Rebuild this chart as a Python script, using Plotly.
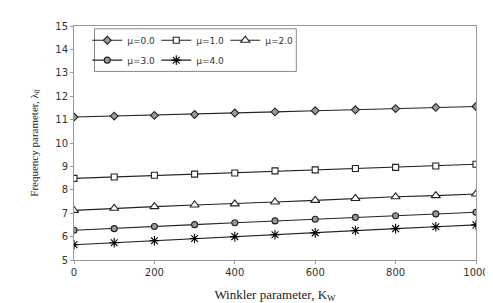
import plotly.graph_objects as go

kw = [0, 100, 200, 300, 400, 500, 600, 700, 800, 900, 1000]
mu0 = [11.11, 11.15, 11.18, 11.22, 11.28, 11.33, 11.38, 11.42, 11.47, 11.52, 11.56]
mu1 = [8.49, 8.55, 8.62, 8.67, 8.72, 8.81, 8.85, 8.91, 8.96, 9.02, 9.09]
mu2 = [7.12, 7.21, 7.28, 7.35, 7.40, 7.48, 7.55, 7.63, 7.70, 7.75, 7.82]
mu3 = [6.27, 6.34, 6.43, 6.51, 6.59, 6.67, 6.74, 6.82, 6.89, 6.97, 7.04]
mu4 = [5.65, 5.74, 5.82, 5.92, 6.00, 6.08, 6.16, 6.26, 6.34, 6.42, 6.50]
names = ["μ=0.0", "μ=1.0", "μ=2.0", "μ=3.0", "μ=4.0"]

series = [mu0, mu1, mu2, mu3, mu4]
symbols = ["diamond", "square", "triangle-up", "circle", "asterisk-open"]
fills = ["#9a9a9a", "white", "white", "#9a9a9a", "black"]
sizes = [6, 6, 8, 6, 8]
legend_ids = ["legend", "legend", "legend", "legend2", "legend2"]

fig = go.Figure()
for ys, nm, sym, fc, sz, lg in zip(series, names, symbols, fills, sizes, legend_ids):
    fig.add_trace(go.Scatter(
        x=kw, y=ys, name=nm, mode="lines+markers", legend=lg,
        line=dict(color="#222222", width=1.1),
        marker=dict(symbol=sym, size=sz, color=fc,
                    line=dict(color="#222222", width=1.1)),
    ))

leg_common = dict(
    orientation="h", xanchor="left", yanchor="middle",
    bgcolor="rgba(0,0,0,0)", borderwidth=0,
    entrywidth=24, entrywidthmode="pixels", itemwidth=30,
    font=dict(family="DejaVu Sans", size=9, color="#333333"),
)

fig.update_layout(
    width=493, height=303,
    margin=dict(l=66, r=14, t=12, b=44),
    paper_bgcolor="white", plot_bgcolor="white",
    font=dict(family="DejaVu Sans", size=10, color="#333333"),
    legend=dict(x=0.033, y=0.939, **leg_common),
    legend2=dict(x=0.033, y=0.854, **leg_common),
    shapes=[dict(type="rect", xref="paper", yref="paper",
                 x0=0.051, x1=0.553, y0=0.806, y1=0.988,
                 line=dict(color="#888888", width=1), fillcolor="white",
                 layer="below")],
    xaxis=dict(
        range=[0, 1000], tickvals=[0, 200, 400, 600, 800, 1000],
        showgrid=False, zeroline=False, showline=True, linecolor="#999999",
        mirror=True, ticks="outside", ticklen=3, tickcolor="#999999",
        title=dict(text="Winkler parameter, K<sub>W</sub>",
                   font=dict(family="Liberation Serif", size=13, color="#222222"),
                   standoff=12),
    ),
    yaxis=dict(
        range=[5, 15], tickvals=list(range(5, 16)),
        showgrid=False, zeroline=False, showline=True, linecolor="#999999",
        mirror=True, ticks="outside", ticklen=3, tickcolor="#999999",
        title=dict(text="Frequency parameter, λ<sub>0</sub>",
                   font=dict(family="Liberation Serif", size=11, color="#222222"),
                   standoff=14),
    ),
)

fig.write_html("out.html")
